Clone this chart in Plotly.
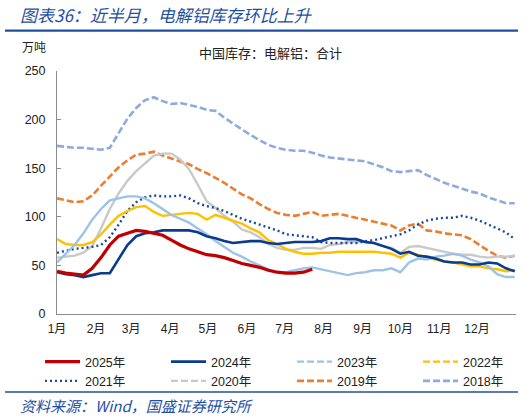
"""China electrolytic aluminium inventory, seasonal comparison 2018-2025."""

import plotly.graph_objects as go

# weekly sample points, as day-of-year offsets
days = [7 * k for k in range(53)]

month_days = [0, 31, 59, 90, 120, 151, 181, 212, 243, 273, 304, 334]
month_labels = ["1月", "2月", "3月", "4月", "5月", "6月",
                "7月", "8月", "9月", "10月", "11月", "12月"]

# 万吨
inv_2025 = [44, 42, 41, 40, 47, 58, 71, 80, 83, 86, 85, 83, 81, 76, 71,
            67, 64, 61, 60, 58, 55, 52, 50, 48, 45, 43, 42, 42, 43, 46]
inv_2024 = [43, 41, 40, 38, 40, 42, 42, 56, 71, 80, 83, 84, 86, 86, 86,
            86, 84, 80, 78, 75, 73, 74, 75, 75, 73, 72, 73, 74, 74, 74,
            75, 78, 78, 77, 77, 74, 73, 70, 67, 62, 64, 60, 59, 57, 54,
            53, 53, 51, 51, 53, 52, 47, 44]
inv_2023 = [53, 62, 71, 83, 97, 108, 117, 119, 121, 121, 119, 114, 108, 102, 98,
            94, 88, 82, 75, 69, 63, 59, 54, 50, 46, 43, 43, 45, 47, 48,
            46, 44, 42, 40, 42, 43, 45, 45, 47, 43, 53, 57, 56, 59, 60,
            62, 60, 56, 53, 49, 41, 38, 38]
inv_2022 = [77, 72, 71, 71, 74, 82, 92, 101, 106, 110, 111, 105, 101, 102, 103,
            104, 103, 97, 102, 99, 96, 93, 88, 84, 76, 72, 67, 64, 62, 62,
            63, 63, 64, 64, 64, 64, 64, 63, 62, 58, 63, 61, 58, 56, 54,
            53, 51, 49, 49, 47, 46, 44, 45]
inv_2021 = [63, 65, 67, 68, 69, 71, 79, 92, 106, 115, 120, 122, 121, 121, 122,
            119, 114, 111, 109, 106, 102, 98, 95, 92, 89, 86, 82, 81, 80, 79,
            74, 73, 73, 73, 73, 75, 76, 78, 80, 82, 86, 92, 96, 98, 99,
            99, 101, 99, 96, 92, 88, 84, 77]
inv_2020 = [58, 59, 60, 63, 70, 88, 108, 124, 137, 147, 155, 163, 165, 165, 159,
            149, 133, 116, 109, 101, 95, 87, 84, 79, 72, 68, 66, 66, 68, 68,
            67, 71, 72, 74, 74, 74, 73, 70, 68, 63, 69, 70, 68, 66, 64,
            62, 61, 61, 59, 58, 59, 59, 60]
inv_2019 = [119, 117, 115, 116, 122, 132, 142, 151, 158, 164, 165, 167, 163, 160, 157,
            154, 149, 145, 140, 135, 129, 123, 119, 113, 108, 104, 102, 101, 103, 105,
            101, 102, 103, 101, 99, 97, 95, 93, 91, 86, 91, 93, 86, 85, 83,
            82, 81, 77, 71, 65, 60, 58, 60]
inv_2018 = [173, 172, 171, 171, 170, 169, 171, 186, 201, 212, 220, 223, 219, 216, 217,
            215, 213, 210, 209, 202, 196, 190, 184, 179, 174, 171, 169, 168, 168, 166,
            163, 161, 160, 159, 158, 157, 154, 151, 147, 146, 147, 148, 143, 139, 135,
            132, 129, 126, 124, 120, 117, 114, 114]

BLUE = "#1E50A2"
CJK = "Noto Sans CJK SC"
NUM = "Liberation Sans, Noto Sans CJK SC"

# name, values, colour, width, dash in the plot, dash in the legend
series = [
    ("2025年", inv_2025, "#C00000", 3.2, "solid", "solid"),
    ("2024年", inv_2024, "#0B3C8C", 2.6, "solid", "solid"),
    ("2023年", inv_2023, "#9DC3E6", 2.4, "solid", "7px,3px"),
    ("2022年", inv_2022, "#FFC000", 2.4, "solid", "7px,3px"),
    ("2021年", inv_2021, "#1A4B9B", 2.4, "2px,3px", "2px,3px"),
    ("2020年", inv_2020, "#C9C9C9", 2.4, "solid", "7px,3px"),
    ("2019年", inv_2019, "#ED7D31", 2.6, "7px,3px", "7px,3px"),
    ("2018年", inv_2018, "#8FAADC", 2.6, "7px,3px", "7px,3px"),
]

# one small vertical legend per column, so the 4x2 grid sits where Excel put it
legend_ids = ["legend", "legend2", "legend3", "legend4"]
legend_x = [-0.037, 0.2375, 0.512, 0.7865]

fig = go.Figure()

# draw oldest first so 2025 ends up on top
for name, vals, color, width, dash, _ in reversed(series):
    fig.add_trace(go.Scatter(
        x=days[:len(vals)], y=vals, mode="lines", name=name,
        line=dict(color=color, width=width, dash=dash),
        showlegend=False,
    ))

# legend entries (Excel shows dashed samples even where the plotted line looks solid)
for i, (name, _, color, width, _, ldash) in enumerate(series):
    fig.add_trace(go.Scatter(
        x=[None], y=[None], mode="lines", name=name,
        line=dict(color=color, width=width, dash=ldash),
        legend=legend_ids[i % 4],
    ))

legend_style = dict(
    orientation="v", xanchor="left", y=-0.136, yanchor="top",
    itemwidth=35, tracegroupgap=0, traceorder="normal",
    bgcolor="rgba(0,0,0,0)",
    font=dict(family=NUM, size=12.5, color="#222222"),
)

fig.update_layout(
    width=526, height=418,
    margin=dict(l=57, r=10, t=71, b=104),
    paper_bgcolor="white", plot_bgcolor="white",
    font=dict(family=NUM, size=12, color="#222222"),
    showlegend=True,
    xaxis=dict(
        range=[0, 365], tickvals=month_days, ticktext=month_labels,
        showline=True, linecolor="#8C8C8C", linewidth=1, ticks="",
        showgrid=False, zeroline=False, ticklabelstandoff=4,
        tickfont=dict(family=NUM, size=12),
    ),
    yaxis=dict(
        range=[0, 250], tickvals=[0, 50, 100, 150, 200, 250],
        showline=True, linecolor="#8C8C8C", linewidth=1,
        ticks="inside", ticklen=4, tickcolor="#8C8C8C",
        showgrid=False, zeroline=False, ticklabelstandoff=8,
        tickfont=dict(family=NUM, size=12.5),
    ),
    shapes=[
        dict(type="line", xref="paper", yref="paper",
             x0=-0.1133, x1=1.0044, y0=1.166, y1=1.166,
             line=dict(color=BLUE, width=2.2)),
        dict(type="line", xref="paper", yref="paper",
             x0=-0.1133, x1=1.0044, y0=-0.321, y1=-0.321,
             line=dict(color=BLUE, width=1.6)),
    ],
    annotations=[
        dict(text="<i>图表36：近半月，电解铝库存环比上升</i>", xref="paper", yref="paper",
             x=-0.085, y=1.2305, xanchor="left", yanchor="middle", showarrow=False,
             font=dict(family=CJK, size=17, color=BLUE)),
        dict(text="万吨", xref="paper", yref="paper",
             x=-0.050, y=1.0988, xanchor="center", yanchor="middle", showarrow=False,
             font=dict(family=CJK, size=12, color="#222222")),
        dict(text="中国库存：电解铝：合计", xref="paper", yref="paper",
             x=0.466, y=1.078, xanchor="center", yanchor="middle", showarrow=False,
             font=dict(family=CJK, size=13, color="#222222")),
        dict(text="<i>资料来源：Wind，国盛证券研究所</i>", xref="paper", yref="paper",
             x=-0.085, y=-0.3745, xanchor="left", yanchor="middle", showarrow=False,
             font=dict(family=CJK, size=15, color=BLUE)),
    ],
)

for lid, lx in zip(legend_ids, legend_x):
    fig.update_layout({lid: dict(legend_style, x=lx)})

# the page's default body margin would push the 526x418 figure out of the window
fig.write_html("out.html", config={"displayModeBar": False},
               post_script="document.body.style.margin = '0';")
